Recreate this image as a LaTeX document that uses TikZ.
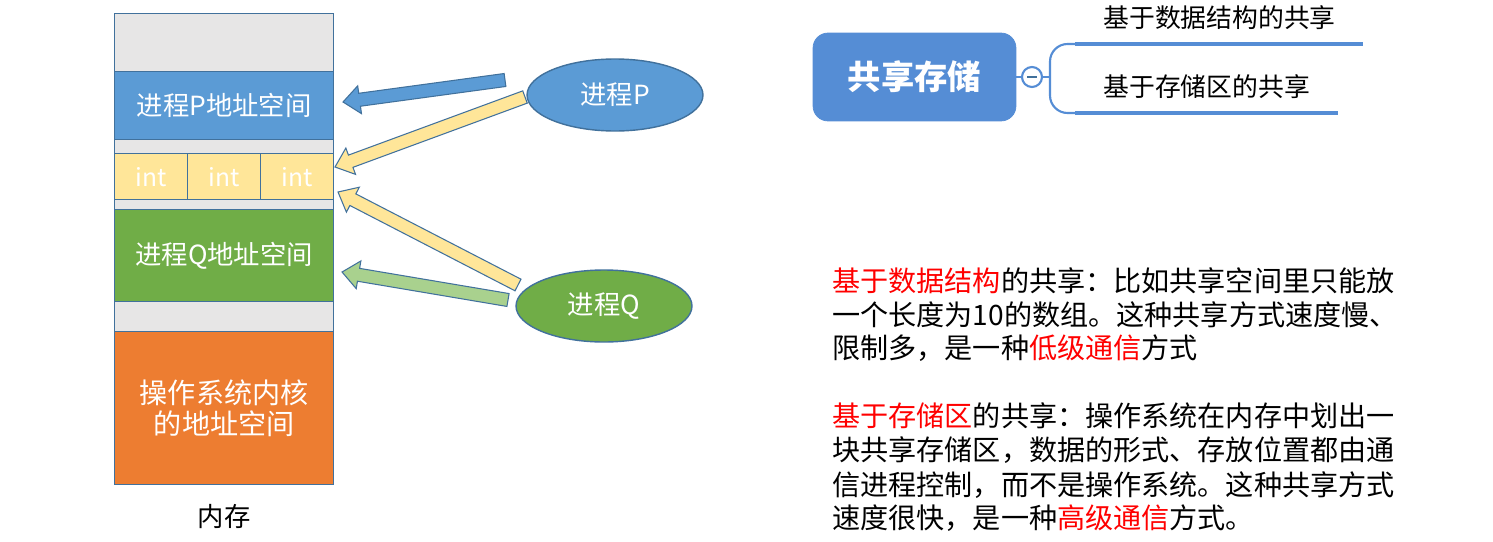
\documentclass[tikz,border=0pt]{standalone}
\usepackage{fontspec}
\setmainfont{Noto Sans CJK SC}
\usetikzlibrary{positioning,calc,shapes.geometric,shapes.arrows}
\definecolor{procblue}{RGB}{91,155,213}
\definecolor{procgreen}{RGB}{112,173,71}
\definecolor{kernelorange}{RGB}{237,125,49}
\definecolor{freegray}{RGB}{231,230,230}
\definecolor{shareyellow}{RGB}{255,230,153}
\definecolor{lightgreen}{RGB}{169,209,142}
\definecolor{edgeblue}{RGB}{65,113,156}
\definecolor{mapblue}{RGB}{85,141,213}
\definecolor{hlred}{RGB}{255,0,0}

\tikzset{
  memblk/.style={draw=edgeblue, line width=0.8pt, minimum width=4.38cm, anchor=north west,
    inner sep=0pt, text=white, font=\fontsize{15}{17}\selectfont},
  intcell/.style={memblk, fill=shareyellow, minimum width=1.46cm, minimum height=0.92cm,
    font=\fontsize{14}{16}\selectfont},
  proc/.style={ellipse, draw=edgeblue, line width=0.8pt, minimum width=3.52cm,
    minimum height=1.44cm, text=white, font=\fontsize{15}{17}\selectfont},
  blockarrow/.style={single arrow, draw=edgeblue, line width=0.6pt, inner sep=0.12cm,
    outer sep=0pt, single arrow head extend=0.15cm, single arrow tip angle=80},
  branchline/.style={mapblue, line width=2.8pt},
  txtline/.style={anchor=west, inner sep=0pt, font=\fontsize{16}{19}\selectfont},
}

% block arrow: name, tail, tip, fill
\newcommand{\shmarrow}[4]{%
  \path let \p1=($(#3)-(#2)$), \n1={veclen(\x1,\y1)}, \n2={atan2(\y1,\x1)} in
    node[blockarrow, fill=#4, minimum height=\n1, rotate=\n2, anchor=tail] (#1) at (#2) {};}

\begin{document}
\begin{tikzpicture}[x=0.02cm, y=-0.02cm]
  \fill[white] (0,0) rectangle (1493,541);
  \useasboundingbox (0,0) rectangle (1493,541);

  % memory column
  \node[memblk, fill=freegray, minimum height=9.42cm] (memory) at (114,13) {};
  \node[memblk, fill=procblue, minimum height=1.36cm] (addrP) at (114,71) {进程P地址空间};
  \node[intcell] (intA) at (114,153) {int};
  \node[intcell] (intB) at (187,153) {int};
  \node[intcell] (intC) at (260,153) {int};
  \node[memblk, fill=procgreen, minimum height=1.84cm] (addrQ) at (114,209) {进程Q地址空间};
  \node[memblk, fill=kernelorange, minimum height=3.06cm, align=center,
    font=\fontsize{16}{17.5}\selectfont] (kernel) at (114,331) {操作系统内核\\的地址空间};
  \node[font=\fontsize{15}{17}\selectfont, below=0.25cm of memory] (memlabel) {内存};

  % processes
  \node[proc, fill=procblue] (procP) at (615,95) {进程P};
  \node[proc, fill=procgreen] (procQ) at (604,306) {进程Q};

  % arrows
  \coordinate (pTailA) at (505,80);   \coordinate (pTipA) at (343,102);
  \coordinate (pTailB) at (525,97);   \coordinate (pTipB) at (335,167);
  \coordinate (qTailB) at (518,285);  \coordinate (qTipB) at (338,192);
  \coordinate (qTailA) at (508,300);  \coordinate (qTipA) at (342,272);
  \shmarrow{arrPown}{pTailA}{pTipA}{procblue}
  \shmarrow{arrPshare}{pTailB}{pTipB}{shareyellow}
  \shmarrow{arrQshare}{qTailB}{qTipB}{shareyellow}
  \shmarrow{arrQown}{qTailA}{qTipA}{lightgreen}

  % mind map
  \node[fill=mapblue, draw=mapblue, rounded corners=0.3cm, minimum width=4.06cm,
    minimum height=1.76cm, text=white, font=\fontsize{19}{21}\selectfont\bfseries]
    (mapRoot) at (914.5,77) {共享存储};
  \node[circle, draw=mapblue, line width=1.2pt, fill=white, minimum size=0.4cm,
    inner sep=0pt] (collapse) at (1032,77) {};
  \draw[mapblue, line width=1pt] (mapRoot.east) -- (collapse.west);
  \draw[edgeblue, line width=1.4pt] ($(collapse.center)+(-5,0)$) -- ($(collapse.center)+(5,0)$);
  \coordinate (brA) at (1075,44);
  \coordinate (brB) at (1075,113);
  \draw[mapblue, line width=1.2pt] (collapse.east) -- (1050,77);
  \draw[mapblue, line width=1.2pt, rounded corners=0.35cm] (brA) -- (1050,44) -- (1050,113) -- (brB);
  \draw[branchline] (brA) -- (1363,44);
  \draw[branchline] (brB) -- (1338,113);
  \node[anchor=west, inner sep=0pt, font=\fontsize{14.7}{16}\selectfont] (branchA) at (1103,18) {基于数据结构的共享};
  \node[anchor=west, inner sep=0pt, font=\fontsize{14.7}{16}\selectfont] (branchB) at (1103,87) {基于存储区的共享};

  % notes
  \node[txtline] (tl1) at (832,281) {\textcolor{hlred}{基于数据结构}的共享：比如共享空间里只能放};
  \node[txtline] (tl2) at (832,315) {一个长度为10的数组。这种共享方式速度慢、};
  \node[txtline] (tl3) at (832,348) {限制多，是一种\textcolor{hlred}{低级通信}方式};
  \node[txtline] (tl4) at (832,416) {\textcolor{hlred}{基于存储区}的共享：操作系统在内存中划出一};
  \node[txtline] (tl5) at (832,450) {块共享存储区，数据的形式、存放位置都由通};
  \node[txtline] (tl6) at (832,485) {信进程控制，而不是操作系统。这种共享方式};
  \node[txtline] (tl7) at (832,518) {速度很快，是一种\textcolor{hlred}{高级通信}方式。};
\end{tikzpicture}
\end{document}
